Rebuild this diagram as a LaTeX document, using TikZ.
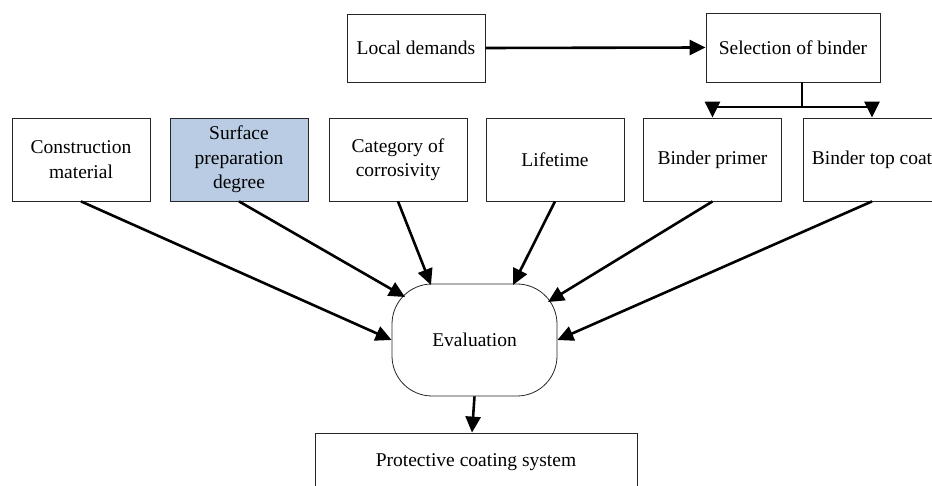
\documentclass[tikz,border=0pt]{standalone}
\usepackage{fontspec}
\setmainfont{Liberation Serif}
\usetikzlibrary{arrows.meta}
\begin{document}
\begin{tikzpicture}[x=1pt,y=-1pt,
  box/.style={draw=black!85,line width=0.8pt,fill=white,minimum width=138pt,minimum height=83pt,inner sep=0pt,align=center,font=\fontsize{19.5}{24.5}\selectfont},
  arr/.style={line width=2.6pt,-{Triangle[length=16pt,width=15pt]}}]
\useasboundingbox (0,0) rectangle (932,486);
\clip (0,0) rectangle (932,486);
% top row
\node[box,minimum height=68pt] (loc) at (416,48) {Local demands};
\node[box,minimum width=174pt,minimum height=69pt] (sel) at (793,47.5) {Selection of binder};
% middle row
\node[box] (con) at (81,159.5) {Construction\\material};
\node[box,fill={rgb,255:red,185;green,204;blue,228}] (sur) at (239,159.5) {Surface\\preparation\\degree};
\node[box] (cat) at (398,159.5) {Category of\\corrosivity};
\node[box] (life) at (555,159.5) {Lifetime};
\node[box] (prim) at (712.5,159.5) {Binder primer};
\node[box] (top) at (872,159.5) {Binder top coat};
% evaluation
\node[draw=black!85,line width=0.8pt,rounded corners=40pt,minimum width=165pt,minimum height=112pt,inner sep=0pt,font=\fontsize{19.5}{24.5}\selectfont] (ev) at (474.5,340) {Evaluation};
% bottom
\node[box,minimum width=322pt,minimum height=58pt] (prot) at (476,462) {Protective coating system};
% connectors
\draw[arr] (loc.east) -- (sel.west);
\coordinate (sp) at (802,107);
\draw[line width=2.6pt] (sel.south -| sp) -- (sp);
\draw[arr] (sp) -| (prim.north);
\draw[arr] (sp) -| (top.north);
\coordinate (esp) at (405,297);
\coordinate (ecat) at (431,285);
\coordinate (elife) at (513,285);
\coordinate (eprim) at (548,302);
\draw[arr] (con.south) -- (ev.west);
\draw[arr] (sur.south) -- (esp);
\draw[arr] (cat.south) -- (ecat);
\draw[arr] (life.south) -- (elife);
\draw[arr] (prim.south) -- (eprim);
\draw[arr] (top.south) -- (ev.east);
\draw[arr] (ev.south) -- (prot.north -| 472,0);
\end{tikzpicture}
\end{document}
